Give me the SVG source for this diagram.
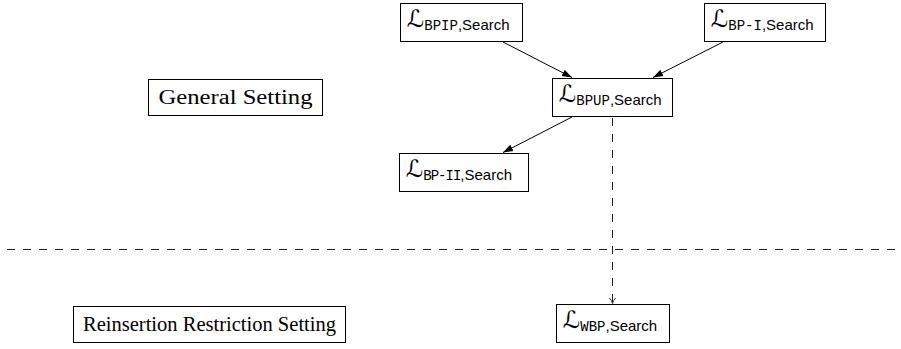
<svg xmlns="http://www.w3.org/2000/svg" width="901" height="349" viewBox="0 0 901 349">
  <style>
    .box { fill: #fff; stroke: #000; stroke-width: 1; }
    .cal { font-family: "DejaVu Serif", "DejaVu Sans", serif; font-size: 24px; }
    .tt { font-family: "Liberation Mono", "DejaVu Sans Mono", monospace; font-size: 14px; }
    .sf { font-family: "Liberation Sans", Arial, sans-serif; font-size: 15px; }
    .rm { font-family: "Liberation Serif", "Times New Roman", serif; font-size: 20px; }
    .edge { stroke: #000; stroke-width: 1; fill: none; }
    .dash { stroke: #222; stroke-width: 1; fill: none; stroke-dasharray: 8 8; }
  </style>
  <defs>
    <marker id="solid" viewBox="0 0 10 10" refX="10" refY="5" markerWidth="10" markerHeight="10" markerUnits="userSpaceOnUse" orient="auto">
      <path d="M0,1.5 L10,5 L0,8.5 Z" fill="#000"/>
    </marker>
    <marker id="open" viewBox="0 0 10 10" refX="9" refY="5" markerWidth="8" markerHeight="8" markerUnits="userSpaceOnUse" orient="auto">
      <path d="M2,1 Q5,4 9,5 Q5,6 2,9" fill="none" stroke="#000" stroke-width="1"/>
    </marker>
  </defs>

  <!-- separator between the two settings -->
  <line class="dash" x1="7" y1="249.5" x2="901" y2="249.5"/>

  <g id="connectors">
    <line class="edge" x1="503" y1="42" x2="572" y2="77.5" marker-end="url(#solid)"/>
    <line class="edge" x1="723" y1="42" x2="653" y2="77.5" marker-end="url(#solid)"/>
    <line class="edge" x1="572" y1="117" x2="503" y2="152.5" marker-end="url(#solid)"/>
    <line class="dash" x1="612.5" y1="118" x2="612.5" y2="303.5" marker-end="url(#open)"/>
  </g>

  <g id="general-setting">
    <rect class="box" x="148.5" y="79.5" width="174" height="36"/>
    <text class="rm" x="235.5" y="104" text-anchor="middle" textLength="154" lengthAdjust="spacingAndGlyphs">General Setting</text>
  </g>

  <g id="reinsertion-setting">
    <rect class="box" x="73.5" y="306.5" width="272" height="36"/>
    <text class="rm" x="209.5" y="331" text-anchor="middle" textLength="253" lengthAdjust="spacingAndGlyphs">Reinsertion Restriction Setting</text>
  </g>

  <g id="bpip">
    <rect class="box" x="400.5" y="3.5" width="122" height="38"/>
    <text x="407" y="27"><tspan class="cal">ℒ</tspan><tspan class="tt" dy="3">BPIP</tspan><tspan class="sf">,Search</tspan></text>
  </g>

  <g id="bp-i">
    <rect class="box" x="704.5" y="3.5" width="121" height="38"/>
    <text x="711" y="27"><tspan class="cal">ℒ</tspan><tspan class="tt" dy="3">BP-I</tspan><tspan class="sf">,Search</tspan></text>
  </g>

  <g id="bpup">
    <rect class="box" x="552.5" y="78.5" width="120" height="38"/>
    <text x="559" y="102"><tspan class="cal">ℒ</tspan><tspan class="tt" dy="3">BPUP</tspan><tspan class="sf">,Search</tspan></text>
  </g>

  <g id="bp-ii">
    <rect class="box" x="399.5" y="153.5" width="129" height="38"/>
    <text x="406" y="177"><tspan class="cal">ℒ</tspan><tspan class="tt" dy="3" letter-spacing="-1">BP-II</tspan><tspan class="sf">,Search</tspan></text>
  </g>

  <g id="wbp">
    <rect class="box" x="556.5" y="304.5" width="113" height="38"/>
    <text x="563" y="328"><tspan class="cal">ℒ</tspan><tspan class="tt" dy="3">WBP</tspan><tspan class="sf">,Search</tspan></text>
  </g>
</svg>
